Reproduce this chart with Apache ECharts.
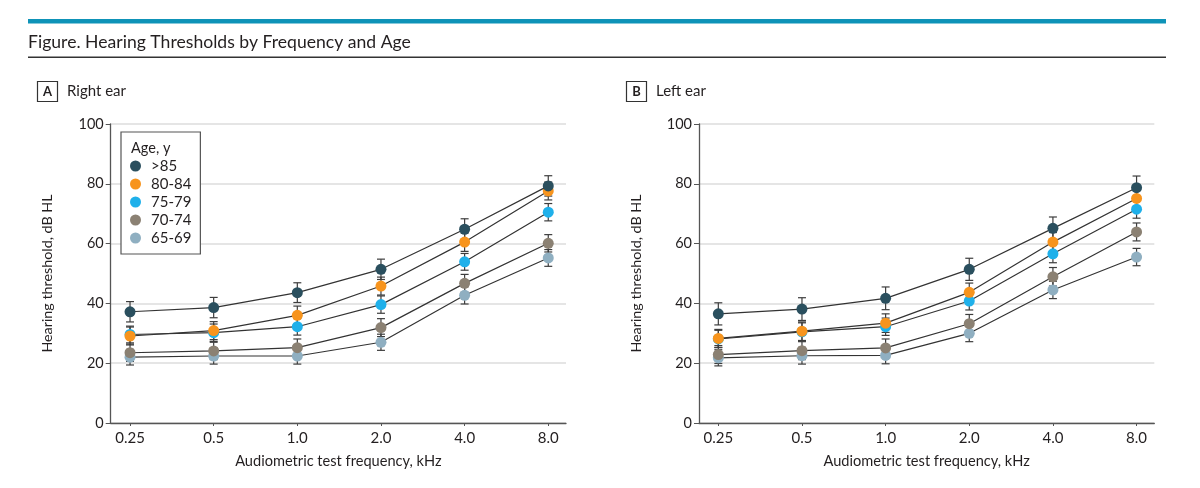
<!DOCTYPE html>
<html>
<head>
<meta charset="utf-8">
<script src="https://cdn.jsdelivr.net/npm/echarts@6/dist/echarts.min.js"></script>
<style>
html,body{margin:0;padding:0;background:#fff;}
#chart{width:1200px;height:488px;}
</style>
</head>
<body>
<div id="chart"></div>
<script>
// ---- data ----
const categories = ['0.25', '0.5', '1.0', '2.0', '4.0', '8.0'];
const ageGroups = ['>85', '80-84', '75-79', '70-74', '65-69'];
const yTicks = [0, 20, 40, 60, 80, 100];

// Panel A: right ear (mean dB HL)
const rightGt85   = [37.2, 38.6, 43.6, 51.4, 64.8, 79.3];
const right80_84  = [29.1, 30.9, 36.0, 45.8, 60.5, 77.6];
const right75_79  = [29.6, 30.2, 32.2, 39.6, 53.9, 70.5];
const right70_74  = [23.5, 24.1, 25.2, 31.9, 46.7, 60.1];
const right65_69  = [22.0, 22.4, 22.4, 27.0, 42.7, 55.2];
// error half-widths
const rightErrGt85  = [3.4, 3.4, 3.3, 3.4, 3.5, 3.4];
const rightErr80_84 = [3.0, 3.0, 3.1, 3.0, 3.1, 3.0];
const rightErr75_79 = [2.8, 2.9, 2.8, 2.9, 2.8, 2.9];
const rightErr70_74 = [2.9, 2.9, 2.9, 3.0, 3.0, 2.9];
const rightErr65_69 = [2.6, 2.7, 2.7, 2.7, 2.9, 2.8];

// Panel B: left ear
const leftGt85   = [36.5, 38.1, 41.7, 51.4, 65.1, 78.7];
const left80_84  = [28.3, 30.7, 33.4, 43.7, 60.5, 75.1];
const left75_79  = [28.1, 30.5, 32.2, 40.8, 56.6, 71.5];
const left70_74  = [22.9, 24.2, 25.1, 33.2, 48.9, 63.9];
const left65_69  = [21.8, 22.5, 22.6, 30.0, 44.5, 55.5];
const leftErrGt85  = [3.7, 3.8, 3.8, 3.7, 3.8, 3.9];
const leftErr80_84 = [3.0, 3.1, 3.1, 3.1, 3.2, 3.1];
const leftErr75_79 = [2.9, 3.0, 2.9, 3.0, 3.0, 3.0];
const leftErr70_74 = [3.0, 3.0, 3.0, 3.1, 3.1, 3.0];
const leftErr65_69 = [2.7, 2.8, 2.8, 2.8, 2.9, 2.9];

// ---- style ----
const palette = ['#2a4f5e', '#f7941d', '#1fb0ea', '#8b8173', '#8fafc1'];
const FONT = 'Lato';
const TXT = '#231f20';

const panels = [
  { means: [rightGt85, right80_84, right75_79, right70_74, right65_69],
    errs:  [rightErrGt85, rightErr80_84, rightErr75_79, rightErr70_74, rightErr65_69] },
  { means: [leftGt85, left80_84, left75_79, left70_74, left65_69],
    errs:  [leftErrGt85, leftErr80_84, leftErr75_79, leftErr70_74, leftErr65_69] }
];

const gridLefts = [110.7, 699];
const idx = categories.map((c, i) => i);

const grids = gridLefts.map(l => ({ left: l, top: 124, width: 455.3, height: 299, containLabel: false }));

const xAxes = gridLefts.map((l, p) => ({
  type: 'value', gridIndex: p, min: -0.231, max: 5.212,
  axisLine: { show: true, onZero: false, lineStyle: { color: '#555', width: 1.3 } },
  axisTick: { show: true, customValues: idx, length: 3, lineStyle: { color: '#555' } },
  axisLabel: { customValues: idx, formatter: v => categories[Math.round(v)], margin: 8,
               fontFamily: FONT, fontSize: 15, color: TXT },
  splitLine: { show: false },
  name: 'Audiometric test frequency, kHz', nameLocation: 'middle', nameGap: 31,
  nameTextStyle: { fontFamily: FONT, fontSize: 14.6, color: TXT }
}));

const yAxes = gridLefts.map((l, p) => ({
  type: 'value', gridIndex: p, min: 0, max: 100, interval: 20,
  axisLine: { show: true, onZero: false, lineStyle: { color: '#555', width: 1.3 } },
  axisTick: { show: true, length: 5, lineStyle: { color: '#555' } },
  axisLabel: { margin: 7, fontFamily: FONT, fontSize: 14.5, color: TXT,
               formatter: v => yTicks.includes(v) ? String(v) : '' },
  splitLine: { show: true, lineStyle: { color: '#dcdcdc', width: 1.5 } },
  name: 'Hearing threshold, dB HL', nameLocation: 'middle', nameGap: 56, nameRotate: 90,
  nameTextStyle: { fontFamily: FONT, fontSize: 14.3, color: TXT }
}));

const series = [];
panels.forEach((panel, p) => {
  ageGroups.forEach((g, k) => {
    const m = panel.means[k], e = panel.errs[k];
    series.push({
      type: 'custom', name: g + ' err', xAxisIndex: p, yAxisIndex: p, z: 1,
      silent: true,
      data: m.map((v, i) => [i, v - e[i], v + e[i]]),
      encode: { x: 0, y: [1, 2] },
      renderItem: function (params, api) {
        const x = api.value(0);
        const lo = api.coord([x, api.value(1)]);
        const hi = api.coord([x, api.value(2)]);
        const cw = 4;
        const st = { stroke: '#3d3d3d', lineWidth: 1.2 };
        return { type: 'group', children: [
          { type: 'line', shape: { x1: lo[0], y1: lo[1], x2: hi[0], y2: hi[1] }, style: st },
          { type: 'line', shape: { x1: lo[0] - cw, y1: lo[1], x2: lo[0] + cw, y2: lo[1] }, style: st },
          { type: 'line', shape: { x1: hi[0] - cw, y1: hi[1], x2: hi[0] + cw, y2: hi[1] }, style: st }
        ]};
      }
    });
  });
  ageGroups.forEach((g, k) => {
    series.push({
      type: 'line', name: g, xAxisIndex: p, yAxisIndex: p, z: 3 + (ageGroups.length - k),
      data: panel.means[k].map((v, i) => [i, v]),
      symbol: 'circle', symbolSize: 11, showSymbol: true,
      lineStyle: { color: '#333', width: 1.2 },
      itemStyle: { color: palette[k] },
      emphasis: { disabled: true },
      animation: false
    });
  });
});

const graphic = [
  { type: 'rect', shape: { x: 28, y: 19, width: 1138, height: 4.5 }, style: { fill: '#0e93b8' } },
  { type: 'text', x: 28, y: 42, style: { text: 'Figure. Hearing Thresholds by Frequency and Age',
      font: '17.6px ' + FONT, fill: TXT, verticalAlign: 'middle' } },
  { type: 'rect', shape: { x: 28, y: 56.5, width: 1138, height: 1.4 }, style: { fill: '#333' } },
  // panel labels
  { type: 'rect', shape: { x: 37.5, y: 81.5, width: 20, height: 20 }, style: { fill: '#fff', stroke: '#333', lineWidth: 1.2 } },
  { type: 'text', x: 47.5, y: 92, style: { text: 'A', font: 'bold 13px ' + FONT, fill: TXT, align: 'center', verticalAlign: 'middle' } },
  { type: 'text', x: 67, y: 91.5, style: { text: 'Right ear', font: '15px ' + FONT, fill: TXT, verticalAlign: 'middle' } },
  { type: 'rect', shape: { x: 626.5, y: 81.5, width: 20, height: 20 }, style: { fill: '#fff', stroke: '#333', lineWidth: 1.2 } },
  { type: 'text', x: 636.5, y: 92, style: { text: 'B', font: 'bold 13px ' + FONT, fill: TXT, align: 'center', verticalAlign: 'middle' } },
  { type: 'text', x: 656, y: 91.5, style: { text: 'Left ear', font: '15px ' + FONT, fill: TXT, verticalAlign: 'middle' } },
  // legend header
  { type: 'text', x: 131, y: 148, z: 100, style: { text: 'Age, y', font: '14.5px ' + FONT, fill: TXT, verticalAlign: 'middle' } }
];

const chart = echarts.init(document.getElementById('chart'), null, { renderer: 'canvas' });
chart.setOption({
  animation: false,
  backgroundColor: '#fff',
  grid: grids,
  xAxis: xAxes,
  yAxis: yAxes,
  legend: {
    show: true, data: ageGroups, orient: 'vertical', left: 121, top: 132,
    padding: [26, 9, 8, 9], itemWidth: 11, itemHeight: 11, itemGap: 2,
    icon: 'circle', selectedMode: false, backgroundColor: '#fff',
    borderColor: '#555', borderWidth: 1.2, borderRadius: 0,
    textStyle: { fontFamily: FONT, fontSize: 15, lineHeight: 16, color: TXT, padding: [0, 0, 0, 5] }
  },
  graphic: graphic,
  series: series
});
</script>
</body>
</html>
